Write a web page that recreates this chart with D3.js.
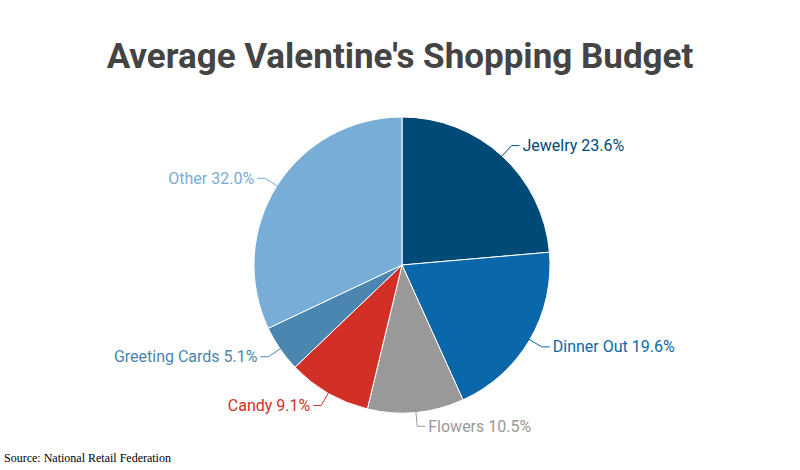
<!DOCTYPE html>
<html>
<head>
<script src="https://d3js.org/d3.v7.min.js"></script>
<style>
  body { margin: 0; background: #fff; }
  .label { font-family: Roboto, sans-serif; font-size: 16px; }
</style>
</head>
<body>
<div id="chart"></div>
<script>
// Data
var categories = ["Jewelry", "Dinner Out", "Flowers", "Candy", "Greeting Cards", "Other"];
var shares = [23.6, 19.6, 10.5, 9.1, 5.1, 32.0];
var colors = ["#004a78", "#0a67aa", "#999999", "#d22f27", "#4a86b0", "#77add6"];

var width = 800, height = 470;
var cx = 402, cy = 265, r = 148;

var svg = d3.select("#chart").append("svg")
    .attr("width", width)
    .attr("height", height);

svg.append("text")
    .attr("x", width / 2)
    .attr("y", 68)
    .attr("text-anchor", "middle")
    .style("font-family", "Roboto, sans-serif")
    .style("font-weight", "bold")
    .style("font-size", "35px")
    .style("fill", "#444")
    .text("Average Valentine's Shopping Budget");

var pie = d3.pie().sort(null).value(d => d.v);
var data = pie(categories.map((c, i) => ({ c: c, v: shares[i], col: colors[i] })));

var arc = d3.arc().innerRadius(0).outerRadius(r);
var g = svg.append("g").attr("transform", "translate(" + cx + "," + cy + ")");

g.selectAll("path")
    .data(data)
    .enter().append("path")
    .attr("d", arc)
    .attr("fill", d => d.data.col)
    .attr("stroke", "#fff")
    .attr("stroke-width", 1);

// leader lines and labels
function pt(a, rad) { return [Math.sin(a) * rad, -Math.cos(a) * rad]; }

data.forEach(function(d) {
    var a = (d.startAngle + d.endAngle) / 2;
    var p1 = pt(a, r - 2), p2 = pt(a, r + 14);
    var right = Math.sin(a) >= 0;
    var p3 = [p2[0] + (right ? 8 : -8), p2[1]];
    g.append("polyline")
        .attr("points", [p1, p2, p3].map(p => p.join(",")).join(" "))
        .attr("fill", "none")
        .attr("stroke", d.data.col)
        .attr("stroke-width", 1);
    g.append("text")
        .attr("class", "label")
        .attr("x", p3[0] + (right ? 3 : -3))
        .attr("y", p3[1])
        .attr("dy", "0.35em")
        .attr("text-anchor", right ? "start" : "end")
        .attr("fill", d.data.col)
        .text(d.data.c + " " + d.data.v.toFixed(1) + "%");
});

svg.append("text")
    .attr("x", 4)
    .attr("y", 462)
    .style("font-family", "'Liberation Serif', serif")
    .style("font-size", "12px")
    .style("fill", "#000")
    .text("Source: National Retail Federation");
</script>
</body>
</html>
